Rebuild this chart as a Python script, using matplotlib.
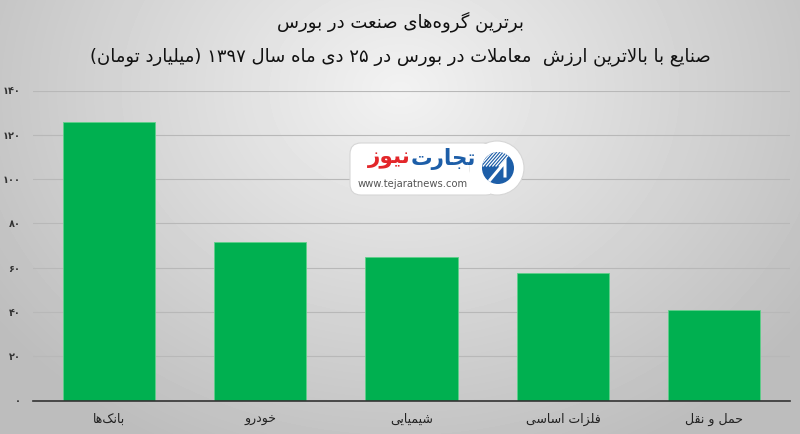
import re
import numpy as np
import matplotlib
matplotlib.use('Agg')
from matplotlib import pyplot as plt
from matplotlib.patches import FancyBboxPatch, Circle

# data
categories = ['بانک‌ها', 'خودرو', 'شیمیایی', 'فلزات اساسی', 'حمل و نقل']
values = [125.6, 71.6, 64.7, 57.7, 40.9]
yticks = [0, 20, 40, 60, 80, 100, 120, 140]
title = 'برترین گروه‌های صنعت در بورس'
subtitle = 'صنایع با بالاترین ارزش  معاملات در بورس در ۲۵ دی ماه سال ۱۳۹۷ (میلیارد تومان)'

# small arabic-script shaper: presentation forms (iso, fin, init, med) + rtl order
FORMS = {
    'ا': (0xFE8D, 0xFE8E, None, None), 'ب': (0xFE8F, 0xFE90, 0xFE91, 0xFE92),
    'ت': (0xFE95, 0xFE96, 0xFE97, 0xFE98), 'ج': (0xFE9D, 0xFE9E, 0xFE9F, 0xFEA0),
    'ح': (0xFEA1, 0xFEA2, 0xFEA3, 0xFEA4), 'خ': (0xFEA5, 0xFEA6, 0xFEA7, 0xFEA8),
    'د': (0xFEA9, 0xFEAA, None, None), 'ر': (0xFEAD, 0xFEAE, None, None),
    'ز': (0xFEAF, 0xFEB0, None, None), 'س': (0xFEB1, 0xFEB2, 0xFEB3, 0xFEB4),
    'ش': (0xFEB5, 0xFEB6, 0xFEB7, 0xFEB8), 'ص': (0xFEB9, 0xFEBA, 0xFEBB, 0xFEBC),
    'ع': (0xFEC9, 0xFECA, 0xFECB, 0xFECC), 'ف': (0xFED1, 0xFED2, 0xFED3, 0xFED4),
    'ق': (0xFED5, 0xFED6, 0xFED7, 0xFED8), 'ک': (0xFB8E, 0xFB8F, 0xFB90, 0xFB91),
    'گ': (0xFB92, 0xFB93, 0xFB94, 0xFB95), 'ل': (0xFEDD, 0xFEDE, 0xFEDF, 0xFEE0),
    'م': (0xFEE1, 0xFEE2, 0xFEE3, 0xFEE4), 'ن': (0xFEE5, 0xFEE6, 0xFEE7, 0xFEE8),
    'ه': (0xFEE9, 0xFEEA, 0xFEEB, 0xFEEC), 'و': (0xFEED, 0xFEEE, None, None),
    'ی': (0xFBFC, 0xFBFD, 0xFBFE, 0xFBFF),
}


def dual(c):
    return c in FORMS and FORMS[c][2] is not None


def shape(s):
    out = []
    i = 0
    while i < len(s):
        c = s[i]
        if c not in FORMS:
            if c != '\u200c':
                out.append(c)
            i += 1
            continue
        jp = i > 0 and dual(s[i - 1])
        if c == 'ل' and i + 1 < len(s) and s[i + 1] == 'ا':
            out.append(chr(0xFEFC if jp else 0xFEFB))
            i += 2
            continue
        jn = dual(c) and i + 1 < len(s) and s[i + 1] in FORMS
        iso, fin, ini, med = FORMS[c]
        g = med if (jp and jn) else fin if jp else ini if jn else iso
        out.append(chr(g))
        i += 1
    vis = ''.join(out)[::-1]
    vis = re.sub('[0-9\u06f0-\u06f9]+', lambda m: m.group(0)[::-1], vis)
    return vis.translate(str.maketrans('()', ')('))


def fa_num(n):
    return ''.join(chr(0x06F0 + int(d)) for d in str(n))


plt.rcParams['font.family'] = ['DejaVu Sans']

fig = plt.figure(figsize=(8, 4.34), dpi=100)

# radial grey background
bg = fig.add_axes([0, 0, 1, 1], zorder=-10)
yy, xx = np.mgrid[0:434, 0:800]
r = np.sqrt(((xx - 400) / 520.0) ** 2 + ((yy - 90) / 420.0) ** 2)
shade = np.clip(0.95 - 0.22 * r, 0.74, 0.95)
bg.imshow(shade, cmap='gray', vmin=0, vmax=1, aspect='auto', extent=[0, 1, 0, 1])
bg.axis('off')

ax = fig.add_axes([33 / 800, 33.5 / 434, 757 / 800, 310 / 434])
ax.set_facecolor('none')
x = np.arange(len(categories))
ax.bar(x, values, width=0.61, color='#00b050', edgecolor='#5fd08a', linewidth=0.6, zorder=3)
ax.set_xlim(-0.5, len(categories) - 0.5)
ax.set_ylim(0, 140)
ax.set_yticks(yticks)
ax.set_yticklabels([fa_num(v) for v in yticks], fontsize=7, fontweight='bold', color='#333333')
ax.set_xticks(x)
ax.set_xticklabels([shape(c) for c in categories], fontsize=9, color='#222222')
ax.tick_params(axis='both', length=0)
ax.tick_params(axis='y', pad=9)
ax.tick_params(axis='x', pad=9)
ax.grid(axis='y', color='#b8b8b8', linewidth=0.8, zorder=0)
for s in ['left', 'right', 'top']:
    ax.spines[s].set_visible(False)
ax.spines['bottom'].set_color('#333333')
ax.spines['bottom'].set_linewidth(1.2)
ax.spines['bottom'].set_zorder(4)

fig.text(0.5, 1 - 22 / 434, shape(title), ha='center', va='center', fontsize=13, color='#111111')
fig.text(0.5, 1 - 57 / 434, shape(subtitle), ha='center', va='center', fontsize=13, color='#111111')

# watermark logo, drawn in pixel coordinates (y down)
lg = fig.add_axes([340 / 800, 1 - 202 / 434, 190 / 800, 68 / 434], zorder=5)
lg.set_xlim(340, 530)
lg.set_ylim(202, 134)
lg.axis('off')
lg.add_patch(FancyBboxPatch((350, 143), 147, 52, boxstyle='round,pad=0,rounding_size=11',
                            facecolor='white', edgecolor='#d6d6d6', linewidth=0.8))
lg.add_patch(Circle((497, 168), 27, facecolor='white', edgecolor='#d6d6d6', linewidth=0.8))
lg.add_patch(FancyBboxPatch((470, 143.6), 20, 50.8, boxstyle='square,pad=0', facecolor='white', edgecolor='none'))
icon = Circle((498, 168), 16, facecolor='#1d5ea8', edgecolor='none')
lg.add_patch(icon)
for k in range(7):
    ln, = lg.plot([480 + k * 3.2, 492 + k * 3.2], [166, 152], color='white', linewidth=0.9)
    ln.set_clip_path(icon)
lg.plot([490, 505, 505], [180, 162, 176], color='white', linewidth=2.2, solid_joinstyle='miter')
lg.text(443, 159, shape('تجارت'), ha='center', va='center', fontsize=15.5, fontweight='bold', color='#1d5ea8')
lg.text(389, 159, shape('نیوز'), ha='center', va='center', fontsize=15.5, fontweight='bold', color='#e3262a')
lg.text(413, 184, 'www.tejaratnews.com', ha='center', va='center', fontsize=7.2, color='#555555')

fig.savefig('out.png', dpi=100)
